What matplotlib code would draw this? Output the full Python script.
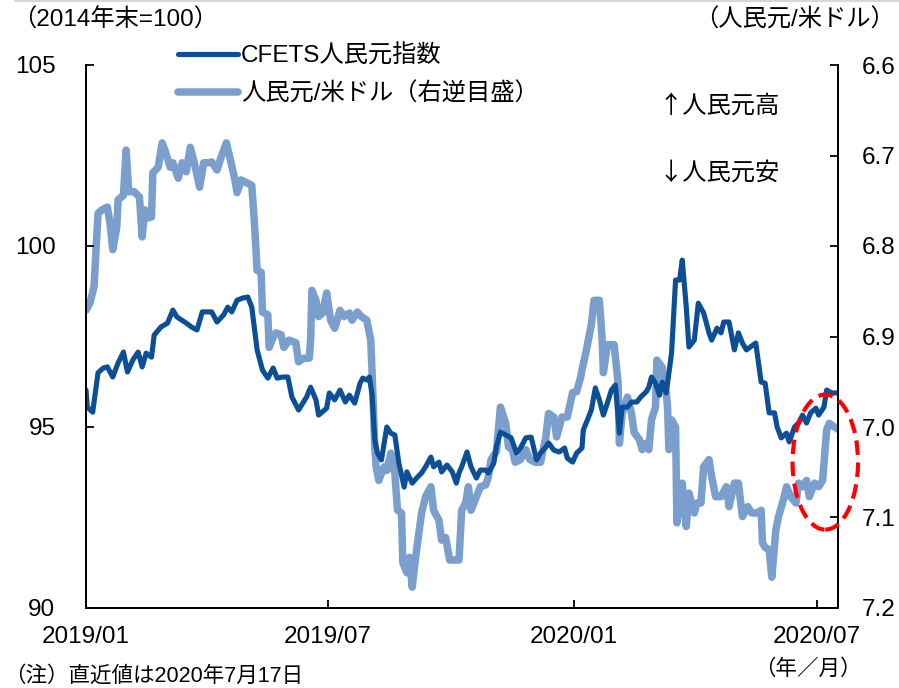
import matplotlib
matplotlib.use("Agg")
import matplotlib.pyplot as plt
import matplotlib.dates as mdates
from matplotlib.patches import Ellipse
from matplotlib.lines import Line2D
import numpy as np
import pandas as pd

plt.rcParams['font.family'] = ['Liberation Sans', 'Noto Sans CJK JP', 'DejaVu Sans']

# ---------------- data ----------------
cfets_dates = [
    "2019-01-01", "2019-01-02", "2019-01-06", "2019-01-10", "2019-01-14", "2019-01-17", "2019-01-21",
    "2019-01-25", "2019-01-29", "2019-02-01", "2019-02-05", "2019-02-09", "2019-02-12", "2019-02-15",
    "2019-02-19", "2019-02-21", "2019-02-26", "2019-03-03", "2019-03-07", "2019-03-10", "2019-03-17",
    "2019-03-21", "2019-03-25", "2019-03-29", "2019-04-05", "2019-04-09", "2019-04-14", "2019-04-17",
    "2019-04-20", "2019-04-24", "2019-04-28", "2019-05-02", "2019-05-05", "2019-05-09", "2019-05-13",
    "2019-05-17", "2019-05-21", "2019-05-24", "2019-05-28", "2019-06-01", "2019-06-04", "2019-06-09",
    "2019-06-15", "2019-06-18", "2019-06-22", "2019-06-24", "2019-06-30", "2019-07-02", "2019-07-06",
    "2019-07-10", "2019-07-14", "2019-07-17", "2019-07-21", "2019-07-25", "2019-07-27", "2019-07-30",
    "2019-08-01", "2019-08-03", "2019-08-05", "2019-08-07", "2019-08-10", "2019-08-14", "2019-08-17",
    "2019-08-20", "2019-08-23", "2019-08-27", "2019-08-29", "2019-09-02", "2019-09-06", "2019-09-09",
    "2019-09-12", "2019-09-16", "2019-09-18", "2019-09-22", "2019-09-24", "2019-09-28", "2019-10-02",
    "2019-10-05", "2019-10-07", "2019-10-09", "2019-10-13", "2019-10-16", "2019-10-20", "2019-10-23",
    "2019-10-27", "2019-10-29", "2019-11-02", "2019-11-04", "2019-11-07", "2019-11-11", "2019-11-15",
    "2019-11-19", "2019-11-22", "2019-11-26", "2019-11-30", "2019-12-04", "2019-12-07", "2019-12-11",
    "2019-12-13", "2019-12-17", "2019-12-21", "2019-12-25", "2019-12-27", "2019-12-31", "2020-01-03",
    "2020-01-07", "2020-01-08", "2020-01-11", "2020-01-14", "2020-01-17", "2020-01-20", "2020-01-23",
    "2020-01-26", "2020-01-29", "2020-02-01", "2020-02-04", "2020-02-06", "2020-02-10", "2020-02-13",
    "2020-02-17", "2020-02-20", "2020-02-24", "2020-02-26", "2020-02-28", "2020-03-02", "2020-03-05",
    "2020-03-07", "2020-03-10", "2020-03-14", "2020-03-17", "2020-03-20", "2020-03-22", "2020-03-25",
    "2020-03-27", "2020-03-31", "2020-04-03", "2020-04-07", "2020-04-11", "2020-04-13", "2020-04-17",
    "2020-04-20", "2020-04-22", "2020-04-26", "2020-04-30", "2020-05-03", "2020-05-06", "2020-05-09",
    "2020-05-12", "2020-05-16", "2020-05-18", "2020-05-20", "2020-05-23", "2020-05-26", "2020-05-30",
    "2020-06-01", "2020-06-04", "2020-06-08", "2020-06-10", "2020-06-14", "2020-06-17", "2020-06-20",
    "2020-06-23", "2020-06-26", "2020-06-30", "2020-07-02", "2020-07-06", "2020-07-08", "2020-07-12",
    "2020-07-17",
]
cfets_values = [
    96.02, 95.55, 95.41, 96.50, 96.63, 96.66, 96.38,
    96.77, 97.07, 96.52, 96.85, 97.07, 96.66, 97.04,
    96.93, 97.54, 97.76, 97.87, 98.23, 98.04, 97.87,
    97.76, 97.68, 98.18, 98.18, 97.90, 98.10, 98.31,
    98.18, 98.50, 98.56, 98.59, 98.31, 97.13, 96.57,
    96.35, 96.63, 96.35, 96.38, 96.38, 95.83, 95.47,
    95.83, 96.10, 95.75, 95.33, 95.52, 95.94, 95.75,
    96.02, 95.69, 95.88, 95.66, 96.21, 96.35, 96.30,
    96.38, 95.88, 94.64, 94.28, 94.09, 95.00, 94.83,
    94.78, 94.00, 93.34, 93.76, 93.45, 93.62, 93.73,
    93.90, 94.17, 93.90, 94.03, 93.76, 93.95, 93.76,
    93.45, 93.73, 93.90, 94.31, 93.90, 93.59, 93.81,
    93.81, 93.73, 94.00, 94.45, 94.86, 94.78, 94.70,
    94.28, 94.42, 94.70, 94.72, 94.09, 94.28, 94.45,
    94.56, 94.36, 94.31, 94.42, 94.14, 94.03, 94.28,
    94.42, 94.92, 95.19, 95.47, 96.08, 95.75, 95.33,
    95.66, 96.02, 96.16, 94.83, 95.55, 95.55, 95.69,
    95.69, 95.83, 95.97, 96.10, 96.38, 96.21, 95.88,
    96.24, 95.94, 97.04, 99.06, 99.06, 99.61, 98.31,
    97.21, 97.40, 98.42, 98.15, 97.60, 97.40, 97.73,
    97.60, 97.90, 97.90, 97.13, 97.60, 97.32, 97.13,
    97.21, 97.32, 96.77, 96.24, 96.21, 95.39, 95.39,
    95.00, 94.70, 94.83, 94.59, 95.00, 95.11, 95.33,
    95.11, 95.39, 95.52, 95.33, 95.55, 96.02, 95.94,
    95.94,
]

cny_dates = [
    "2019-01-01", "2019-01-04", "2019-01-07", "2019-01-10", "2019-01-13", "2019-01-17", "2019-01-19",
    "2019-01-21", "2019-01-24", "2019-01-25", "2019-01-29", "2019-01-31", "2019-02-02", "2019-02-06",
    "2019-02-10", "2019-02-12", "2019-02-14", "2019-02-16", "2019-02-19", "2019-02-20", "2019-02-24",
    "2019-02-27", "2019-03-01", "2019-03-05", "2019-03-07", "2019-03-11", "2019-03-14", "2019-03-17",
    "2019-03-20", "2019-03-23", "2019-03-27", "2019-03-30", "2019-04-03", "2019-04-05", "2019-04-09",
    "2019-04-12", "2019-04-16", "2019-04-19", "2019-04-22", "2019-04-24", "2019-04-27", "2019-05-01",
    "2019-05-05", "2019-05-07", "2019-05-09", "2019-05-12", "2019-05-13", "2019-05-17", "2019-05-18",
    "2019-05-21", "2019-05-23", "2019-05-27", "2019-05-29", "2019-06-02", "2019-06-07", "2019-06-09",
    "2019-06-13", "2019-06-17", "2019-06-18", "2019-06-19", "2019-06-22", "2019-06-24", "2019-06-27",
    "2019-06-30", "2019-07-03", "2019-07-06", "2019-07-10", "2019-07-13", "2019-07-17", "2019-07-19",
    "2019-07-23", "2019-07-26", "2019-07-30", "2019-08-02", "2019-08-03", "2019-08-05", "2019-08-06",
    "2019-08-08", "2019-08-12", "2019-08-14", "2019-08-17", "2019-08-20", "2019-08-22", "2019-08-25",
    "2019-08-26", "2019-08-29", "2019-08-31", "2019-09-02", "2019-09-05", "2019-09-07", "2019-09-09",
    "2019-09-12", "2019-09-16", "2019-09-18", "2019-09-22", "2019-09-24", "2019-09-27", "2019-09-30",
    "2019-10-05", "2019-10-07", "2019-10-09", "2019-10-12", "2019-10-14", "2019-10-16", "2019-10-20",
    "2019-10-23", "2019-10-27", "2019-10-29", "2019-10-31", "2019-11-04", "2019-11-07", "2019-11-11",
    "2019-11-13", "2019-11-16", "2019-11-18", "2019-11-22", "2019-11-26", "2019-11-29", "2019-12-03",
    "2019-12-07", "2019-12-11", "2019-12-13", "2019-12-17", "2019-12-19", "2019-12-23", "2019-12-27",
    "2019-12-31", "2020-01-03", "2020-01-06", "2020-01-07", "2020-01-10", "2020-01-14", "2020-01-16",
    "2020-01-20", "2020-01-22", "2020-01-23", "2020-01-26", "2020-01-31", "2020-02-03", "2020-02-04",
    "2020-02-06", "2020-02-10", "2020-02-13", "2020-02-15", "2020-02-19", "2020-02-21", "2020-02-24",
    "2020-02-26", "2020-02-28", "2020-03-02", "2020-03-03", "2020-03-07", "2020-03-10", "2020-03-11",
    "2020-03-12", "2020-03-14", "2020-03-17", "2020-03-18", "2020-03-22", "2020-03-25", "2020-03-27",
    "2020-03-31", "2020-04-02", "2020-04-05", "2020-04-07", "2020-04-11", "2020-04-13", "2020-04-16",
    "2020-04-20", "2020-04-24", "2020-04-26", "2020-04-30", "2020-05-03", "2020-05-06", "2020-05-10",
    "2020-05-13", "2020-05-17", "2020-05-20", "2020-05-21", "2020-05-23", "2020-05-26", "2020-05-28",
    "2020-05-31", "2020-06-02", "2020-06-05", "2020-06-08", "2020-06-11", "2020-06-15", "2020-06-17",
    "2020-06-20", "2020-06-23", "2020-06-25", "2020-06-29", "2020-07-02", "2020-07-05", "2020-07-08",
    "2020-07-10", "2020-07-14", "2020-07-17",
]
cny_values = [
    6.871, 6.863, 6.845, 6.764, 6.760, 6.757, 6.775,
    6.804, 6.779, 6.749, 6.744, 6.694, 6.740, 6.740,
    6.746, 6.790, 6.760, 6.769, 6.768, 6.719, 6.713,
    6.686, 6.694, 6.713, 6.708, 6.725, 6.708, 6.718,
    6.691, 6.708, 6.735, 6.708, 6.708, 6.707, 6.716,
    6.702, 6.686, 6.705, 6.724, 6.741, 6.727, 6.730,
    6.733, 6.775, 6.827, 6.829, 6.873, 6.876, 6.912,
    6.901, 6.896, 6.898, 6.912, 6.904, 6.907, 6.928,
    6.924, 6.924, 6.904, 6.849, 6.860, 6.878, 6.874,
    6.852, 6.882, 6.891, 6.871, 6.878, 6.874, 6.882,
    6.873, 6.878, 6.882, 6.904, 6.940, 7.022, 7.044,
    7.059, 7.044, 7.048, 7.029, 7.051, 7.092, 7.095,
    7.150, 7.161, 7.144, 7.177, 7.139, 7.117, 7.095,
    7.077, 7.066, 7.092, 7.103, 7.125, 7.122, 7.147,
    7.147, 7.147, 7.092, 7.084, 7.066, 7.092, 7.077,
    7.066, 7.064, 7.055, 7.036, 7.027, 6.978, 6.996,
    7.022, 7.025, 7.039, 7.036, 7.025, 7.036, 7.039,
    7.039, 7.011, 6.985, 6.989, 7.011, 6.989, 6.989,
    6.962, 6.961, 6.945, 6.937, 6.917, 6.887, 6.860,
    6.860, 6.901, 6.940, 6.909, 6.909, 6.951, 7.018,
    6.985, 6.967, 6.985, 7.006, 7.014, 7.025, 7.018,
    7.025, 6.992, 6.978, 6.926, 6.934, 6.962, 6.978,
    7.025, 6.992, 7.000, 7.106, 7.062, 7.110, 7.073,
    7.095, 7.084, 7.084, 7.044, 7.036, 7.055, 7.077,
    7.077, 7.066, 7.088, 7.062, 7.062, 7.099, 7.088,
    7.095, 7.095, 7.092, 7.128, 7.133, 7.136, 7.166,
    7.114, 7.099, 7.084, 7.066, 7.077, 7.084, 7.062,
    7.066, 7.059, 7.077, 7.062, 7.066, 7.059, 7.003,
    6.996, 7.000, 7.003,
]

x_ticks = ["2019-01-01", "2019-07-01", "2020-01-01", "2020-07-01"]
x_tick_labels = ["2019/01", "2019/07", "2020/01", "2020/07"]
left_ticks = [90, 95, 100, 105]
right_ticks = [6.6, 6.7, 6.8, 6.9, 7.0, 7.1, 7.2]
series_labels = ["CFETS人民元指数", "人民元/米ドル（右逆目盛）"]

# highlighted region (red dashed ellipse)
highlight_center = ("2020-07-07", 94.03)
highlight_days = 49
highlight_height = 3.73

# ---------------- figure ----------------
W, H = 899, 688
fig = plt.figure(figsize=(W / 100, H / 100), dpi=100)

def fx(px):
    return px / W

def fy(py):
    return 1 - py / H

ax = fig.add_axes([fx(86), fy(608), fx(838) - fx(86), fy(65) - fy(608)])
ax2 = ax.twinx()

dark = "#0c4f96"
light = "#7a9fcd"

cf_d = pd.to_datetime(cfets_dates)
cn_d = pd.to_datetime(cny_dates)

l2, = ax2.plot(cn_d, cny_values, color=light, lw=5.4, solid_joinstyle="round",
               solid_capstyle="round")
l1, = ax.plot(cf_d, cfets_values, color=dark, lw=3.7, solid_joinstyle="round",
              solid_capstyle="round")

ax.set_zorder(ax2.get_zorder() + 1)
ax.patch.set_visible(False)

ax.set_xlim(pd.Timestamp("2019-01-01"), pd.Timestamp("2020-07-16 12:00"))
ax.set_ylim(90, 105)
ax2.set_ylim(7.2, 6.6)

ax.set_xticks(pd.to_datetime(x_ticks))
ax.set_xticklabels(x_tick_labels)
ax.set_yticks(left_ticks)
ax.set_yticklabels([str(v) for v in left_ticks])
ax2.set_yticks(right_ticks)
ax2.set_yticklabels([f"{v:.1f}" for v in right_ticks])

fs = 17.5
for a in (ax, ax2):
    for s in a.spines.values():
        s.set_linewidth(1.3)
        s.set_color("black")
    a.spines["top"].set_visible(False)

ax.tick_params(axis="x", direction="in", length=6, width=1.3, pad=13, labelsize=fs)
ax.tick_params(axis="y", direction="in", length=6, width=1.3, pad=22, labelsize=fs)
ax2.tick_params(axis="y", direction="in", length=6, width=1.3, pad=17, labelsize=fs)
for lab in ax.get_yticklabels():
    lab.set_horizontalalignment("right")

# ellipse
cx = mdates.date2num(pd.Timestamp(highlight_center[0]))
ell = Ellipse((cx, highlight_center[1]), width=highlight_days, height=highlight_height,
              fill=False, edgecolor="#ff0000", lw=3.0, linestyle=(0, (3.5, 1.8)),
              clip_on=False, zorder=10)
ax.add_patch(ell)

# legend
fig.legend([l1, l2], series_labels, loc="upper left",
           bbox_to_anchor=(fx(178), fy(44)), bbox_transform=fig.transFigure,
           frameon=False, fontsize=fs, handlelength=2.45, handletextpad=0.15,
           labelspacing=0.62, borderpad=0, borderaxespad=0)

# texts
cjk = ['Noto Sans CJK JP', 'DejaVu Sans']
fig.text(fx(12), fy(20), "（2014年末=100）", fontsize=fs, va="center", ha="left")
fig.text(fx(895), fy(20), "（人民元/米ドル）", fontsize=fs, va="center", ha="right")
fig.text(fx(658), fy(106), "↑人民元高", fontsize=fs, va="center", ha="left", family=cjk)
fig.text(fx(658), fy(173), "↓人民元安", fontsize=fs, va="center", ha="left", family=cjk)
fig.text(fx(4), fy(676), "（注）直近値は2020年7月17日", fontsize=15.5, va="center", ha="left")
fig.text(fx(808), fy(669), "（年／月）", fontsize=15.5, va="center", ha="center")

# faint top rule
fig.add_artist(Line2D([fx(15), 1.0], [fy(1), fy(1)], color="#d0d0d0", lw=1.2))

fig.savefig("out.png", dpi=100)
